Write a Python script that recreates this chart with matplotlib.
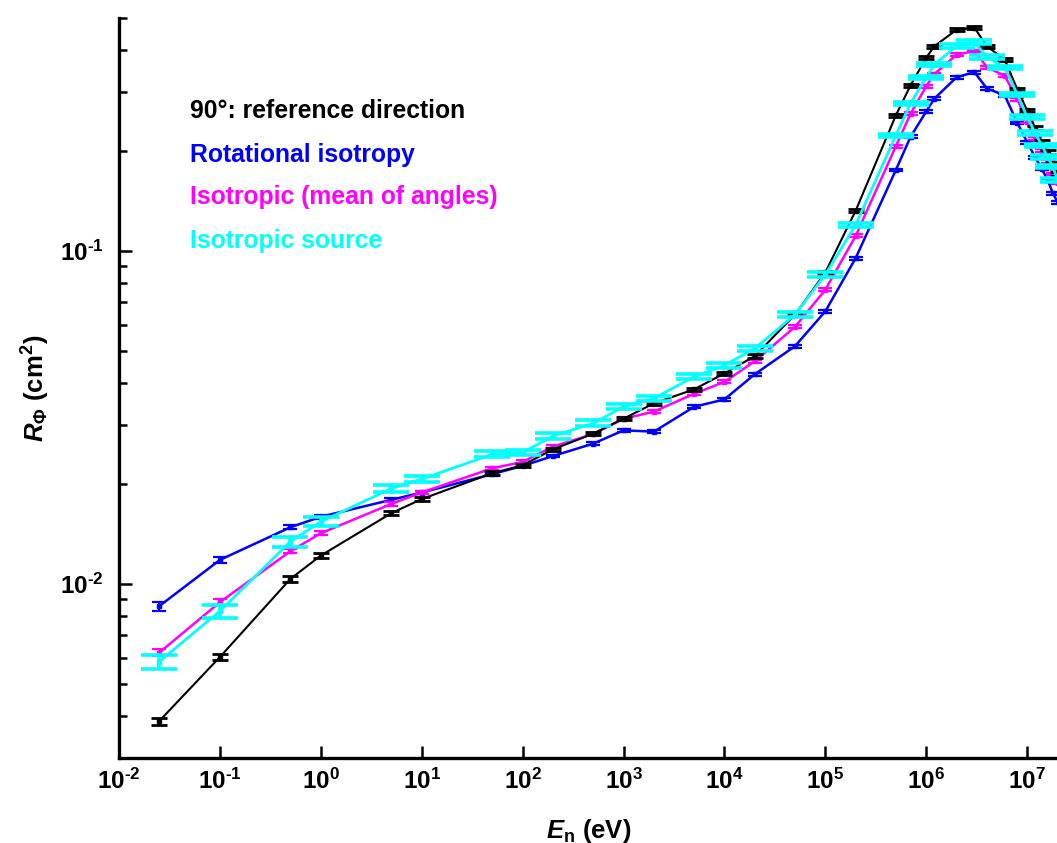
import matplotlib
matplotlib.use("Agg")
import matplotlib.pyplot as plt
from matplotlib.ticker import FixedLocator, FuncFormatter, NullFormatter
import numpy as np

plt.rcParams['font.family'] = ['Liberation Sans', 'DejaVu Sans']
plt.rcParams['font.weight'] = 'bold'
plt.rcParams['mathtext.fontset'] = 'custom'
plt.rcParams['mathtext.rm'] = 'Liberation Sans:bold'
plt.rcParams['mathtext.bf'] = 'Liberation Sans:bold'
plt.rcParams['mathtext.it'] = 'Liberation Sans:bold:italic'
plt.rcParams['mathtext.default'] = 'rm'

# Neutron energies (eV)
energy = [0.025, 0.1, 0.5, 1, 5, 10, 50, 100, 200, 500, 1e3, 2e3, 5e3, 1e4, 2e4,
          5e4, 1e5, 2e5, 5e5, 7e5, 1e6, 1.2e6, 2e6, 3e6, 4e6, 6e6, 8e6, 1e7,
          1.2e7, 1.4e7, 1.6e7, 1.8e7, 2e7]

# Response R_Phi (cm^2)
ref_90 = [0.00387, 0.00603, 0.01035, 0.01216, 0.0163, 0.01797, 0.02149, 0.0227,
          0.02534, 0.02824, 0.03132, 0.03483, 0.03837, 0.04284, 0.0483, 0.0643,
          0.0861, 0.132, 0.255, 0.314, 0.380, 0.411, 0.461, 0.468, 0.411, 0.375,
          0.305, 0.264, 0.234, 0.212, 0.198, 0.183, 0.170]
rot_iso = [0.00857, 0.0118, 0.01479, 0.0159, 0.01788, 0.0188, 0.02135, 0.0226,
           0.0242, 0.02636, 0.0289, 0.02864, 0.0340, 0.0358, 0.0426, 0.0517,
           0.0658, 0.0951, 0.1748, 0.220, 0.262, 0.286, 0.332, 0.344, 0.307,
           0.293, 0.242, 0.212, 0.191, 0.176, 0.163, 0.149, 0.140]
iso_mean = [0.00621, 0.00881, 0.01253, 0.01419, 0.01738, 0.01881, 0.02223, 0.02323,
            0.02583, 0.02818, 0.0313, 0.0329, 0.0372, 0.0404, 0.0466, 0.0591,
            0.0764, 0.1109, 0.206, 0.258, 0.312, 0.339, 0.388, 0.398, 0.356,
            0.335, 0.285, 0.244, 0.217, 0.2005, 0.185, 0.170, 0.160]
iso_src = [0.00584, 0.00828, 0.0134, 0.01537, 0.01934, 0.02063, 0.02449, 0.0248,
           0.0278, 0.03034, 0.0340, 0.03606, 0.04185, 0.0453, 0.0509, 0.0643,
           0.0848, 0.1196, 0.222, 0.277, 0.332, 0.362, 0.412, 0.423, 0.382,
           0.355, 0.295, 0.252, 0.226, 0.207, 0.191, 0.179, 0.163]

# Relative statistical uncertainties
rel_ref_90 = [0.025, 0.02, 0.018, 0.015, 0.015, 0.015] + [0.012] * 27
rel_rot_iso = [0.03, 0.02, 0.015, 0.015, 0.012, 0.012] + [0.01] * 27
rel_iso_mean = [0.025, 0.02, 0.015, 0.015, 0.012, 0.012] + [0.01] * 27
rel_iso_src = [0.05, 0.045, 0.035, 0.03, 0.025, 0.022, 0.02, 0.02, 0.02, 0.02,
               0.018, 0.018, 0.018, 0.018, 0.016, 0.016, 0.015, 0.015] + [0.012] * 15

labels = ["90°: reference direction", "Rotational isotropy",
          "Isotropic (mean of angles)", "Isotropic source"]
colors = ["#000000", "#0000FF", "#FF00FF", "#00FFFF"]

# Axis ticks
x_major = [1e-2, 1e-1, 1e0, 1e1, 1e2, 1e3, 1e4, 1e5, 1e6, 1e7]
y_major = [1e-2, 1e-1]
y_minor = [0.003, 0.004, 0.005, 0.006, 0.007, 0.008, 0.009,
           0.02, 0.03, 0.04, 0.05, 0.06, 0.07, 0.08, 0.09,
           0.2, 0.3, 0.4, 0.5]

W, H = 1057, 843
fig = plt.figure(figsize=(W / 100, H / 100), dpi=100)
ax = fig.add_axes([119 / W, (H - 758) / H, 938.5 / W, 740 / H])

E = np.array(energy)
series = [
    (rot_iso, rel_rot_iso, colors[1], 1.8, 5, 1.6, 1),
    (iso_mean, rel_iso_mean, colors[2], 1.8, 5, 1.6, 2),
    (ref_90, rel_ref_90, colors[0], 1.5, 6, 2.0, 3),
    (iso_src, rel_iso_src, colors[3], 2.0, 13, 2.6, 4),
]
for vals, rel, col, lw, cap, capw, z in series:
    v = np.array(vals)
    err = v * np.array(rel)
    ax.errorbar(E, v, yerr=err, color=col, lw=lw, marker='s', ms=3.5,
                mec=col, mfc=col, capsize=cap, capthick=capw, elinewidth=capw,
                zorder=z)

ax.set_xscale('log')
ax.set_yscale('log')
ax.set_xlim(0.01, 2e7)
ax.set_ylim(0.003, 0.5)

ax.spines['top'].set_visible(False)
ax.spines['right'].set_visible(False)
ax.spines['left'].set_linewidth(2.4)
ax.spines['bottom'].set_linewidth(2.4)

ax.xaxis.set_major_locator(FixedLocator(x_major))
ax.xaxis.set_minor_locator(FixedLocator([]))
ax.yaxis.set_major_locator(FixedLocator(y_major))
ax.yaxis.set_minor_locator(FixedLocator(y_minor))


def pow10(v, pos):
    n = int(round(np.log10(v)))
    if n < 0:
        return r'$10^{\text{-}%d}$' % (-n)
    return r'$10^{%d}$' % n


fmt = FuncFormatter(pow10)
ax.xaxis.set_major_formatter(fmt)
ax.yaxis.set_major_formatter(fmt)
ax.xaxis.set_minor_formatter(NullFormatter())
ax.yaxis.set_minor_formatter(NullFormatter())

ax.tick_params(axis='both', which='major', direction='in', length=9, width=1.8,
               labelsize=17.5, pad=8)
ax.tick_params(axis='y', which='minor', direction='in', length=6, width=1.8)
ax.tick_params(axis='y', which='major', pad=11)

ax.set_xlabel(r'$\mathit{E}_{\mathrm{n}}$ (eV)', fontsize=18.5, fontweight='bold',
              labelpad=16)
ax.set_ylabel(r'$\mathit{R}_{\mathit{\Phi}}$ (cm$^{2}$)', fontsize=18.5,
              fontweight='bold', labelpad=6)

ys = [0.8655, 0.8058, 0.748, 0.689]
for txt, col, yy in zip(labels, colors, ys):
    ax.text(0.0757, yy, txt, color=col, fontsize=17.8, fontweight='bold',
            transform=ax.transAxes, va='baseline', ha='left')

fig.savefig('out.png', dpi=100)
